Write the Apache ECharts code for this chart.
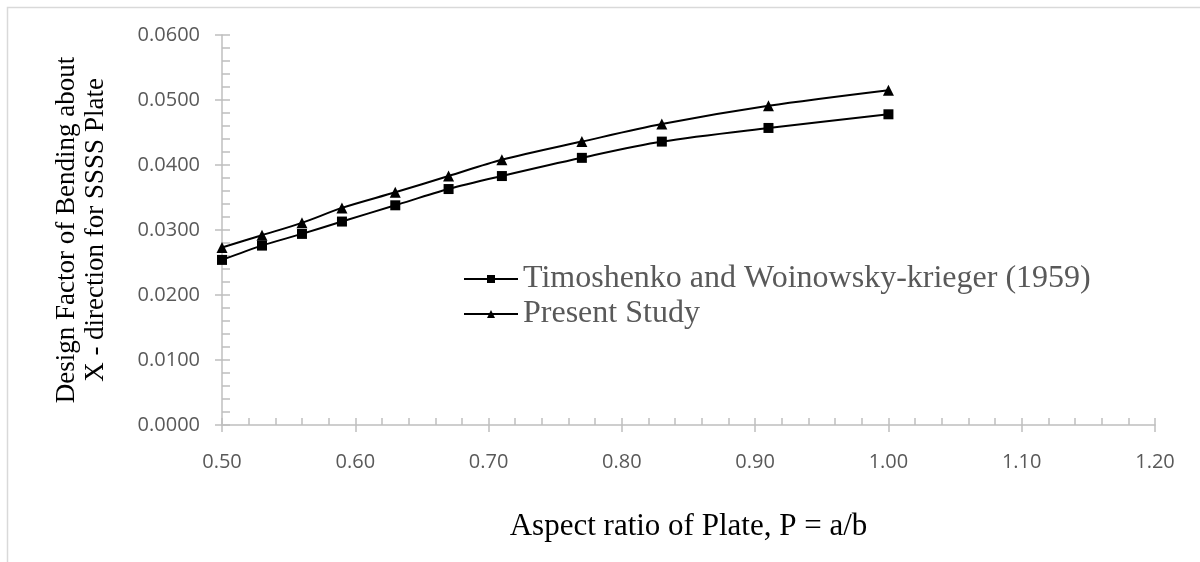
<!DOCTYPE html>
<html>
<head>
<meta charset="utf-8">
<script src="https://cdn.jsdelivr.net/npm/echarts@6/dist/echarts.min.js"></script>
<style>
  html, body { margin: 0; padding: 0; background: #fff; }
  #main { width: 1200px; height: 562px; }
</style>
</head>
<body>
<div id="main"></div>
<script>
// aspect ratio a/b
const ratios = [0.50, 0.53, 0.56, 0.59, 0.63, 0.67, 0.71, 0.77, 0.83, 0.91, 1.00];
// Timoshenko and Woinowsky-krieger (1959)
const timoshenko = [0.0254, 0.0276, 0.0294, 0.0313, 0.0338, 0.0363, 0.0383, 0.0411, 0.0436, 0.0457, 0.0478];
// present study
const present = [0.0273, 0.0292, 0.0311, 0.0334, 0.0358, 0.0383, 0.0408, 0.0436, 0.0463, 0.0491, 0.0515];

const seriesNames = ['Timoshenko and Woinowsky-krieger (1959)', 'Present Study'];
const xTitle = 'Aspect ratio of Plate, P = a/b';
const yTitle = 'Design Factor of Bending about\nX - direction for SSSS Plate';

const pairs = (xs, ys) => xs.map((x, i) => [x, ys[i]]);

const chart = echarts.init(document.getElementById('main'));

const tickLabel = { color: '#595959', fontFamily: 'Open Sans', fontSize: 20 };
const axisGrey = { color: '#bfbfbf', width: 1.5 };

chart.setOption({
  backgroundColor: '#fff',
  animation: false,
  graphic: [{
    type: 'rect',
    shape: { x: 7.5, y: 7.5, width: 1300, height: 700 },
    style: { fill: 'none', stroke: '#d9d9d9', lineWidth: 1.5 },
    silent: true
  }],
  grid: { left: 222, right: 45, top: 35, bottom: 137 },
  legend: {
    orient: 'vertical',
    left: 463,
    top: 263,
    padding: 0,
    itemWidth: 54,
    itemHeight: 10,
    itemGap: 3,
    textStyle: { fontFamily: 'Liberation Serif', fontSize: 32, color: '#595959' },
    data: seriesNames
  },
  xAxis: [{
    type: 'value',
    min: 0.5, max: 1.2, interval: 0.1,
    name: xTitle,
    nameLocation: 'middle',
    nameGap: 86,
    nameTextStyle: { fontFamily: 'Liberation Serif', fontSize: 31, color: '#000' },
    axisLine: { lineStyle: axisGrey },
    axisTick: { inside: true, length: 7, lineStyle: axisGrey },
    minorTick: { show: true, splitNumber: 5, length: 7, lineStyle: axisGrey },
    axisLabel: Object.assign({ margin: 27, formatter: v => v.toFixed(2) }, tickLabel),
    splitLine: { show: false }
  }, {
    // outer half of the crossing major ticks
    type: 'value', position: 'bottom',
    min: 0.5, max: 1.2, interval: 0.1,
    axisLine: { show: false },
    axisTick: { inside: false, length: 7, lineStyle: axisGrey },
    axisLabel: { show: false },
    splitLine: { show: false }
  }],
  yAxis: [{
    type: 'value',
    min: 0, max: 0.06, interval: 0.01,
    name: yTitle,
    nameLocation: 'middle',
    nameRotate: 90,
    nameGap: 112,
    nameTextStyle: { fontFamily: 'Liberation Serif', fontSize: 27, color: '#000', lineHeight: 29 },
    axisLine: { show: true, lineStyle: axisGrey },
    axisTick: { show: true, inside: true, length: 8, lineStyle: axisGrey },
    minorTick: { show: true, splitNumber: 5, length: 8, lineStyle: axisGrey },
    axisLabel: Object.assign({ margin: 22, formatter: v => v.toFixed(4) }, tickLabel),
    splitLine: { show: false }
  }, {
    type: 'value', position: 'left',
    min: 0, max: 0.06, interval: 0.01,
    axisLine: { show: false },
    axisTick: { show: true, inside: false, length: 7, lineStyle: axisGrey },
    axisLabel: { show: false },
    splitLine: { show: false }
  }],
  series: [{
    name: seriesNames[0],
    type: 'line',
    smooth: 0.3,
    data: pairs(ratios, timoshenko),
    symbol: 'rect',
    symbolSize: 10,
    color: '#000',
    lineStyle: { color: '#000', width: 2 },
    itemStyle: { color: '#000' }
  }, {
    name: seriesNames[1],
    type: 'line',
    smooth: 0.3,
    data: pairs(ratios, present),
    symbol: 'triangle',
    symbolSize: 11,
    color: '#000',
    lineStyle: { color: '#000', width: 2 },
    itemStyle: { color: '#000' }
  }]
});
</script>
</body>
</html>
